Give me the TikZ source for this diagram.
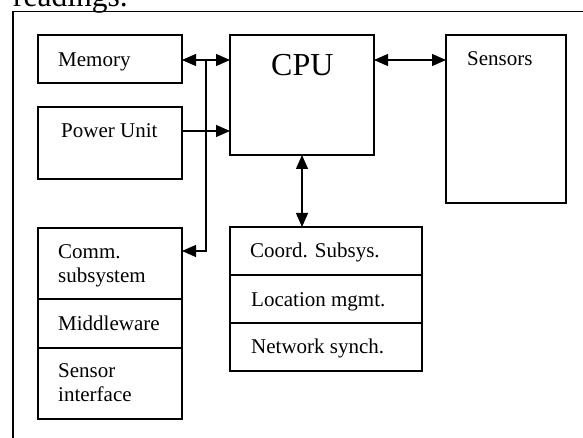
\documentclass[tikz,border=0pt]{standalone}
\usepackage{fontspec}
\setmainfont{Liberation Serif}
\usetikzlibrary{arrows.meta}
\tikzset{
  box/.style={draw, line width=1.2pt, rectangle, inner sep=0pt, outer sep=0pt, anchor=north west},
  txt/.style={inner sep=0pt, anchor=base west, align=left, font=\fontsize{21}{23.5}\selectfont},
  bigtxt/.style={inner sep=0pt, anchor=base west, font=\fontsize{32}{36}\selectfont},
  conn/.style={line width=1.2pt},
  arr/.style={conn, -{Triangle[length=14pt,width=12pt]}},
  biarr/.style={conn, {Triangle[length=14pt,width=12pt]}-{Triangle[length=14pt,width=12pt]}}
}
\begin{document}
\begin{tikzpicture}[x=1pt,y=-1pt]
\useasboundingbox (0,0) rectangle (583,438);
\clip (0,0) rectangle (583,438);
% partially visible text above the figure
\node[bigtxt, font=\fontsize{31.5}{36}\selectfont] (readings) at (13,6.5) {readings.};
% outer frame
\draw[line width=1.2pt] (13,11.5) rectangle (620,470);
% boxes
\node[box, minimum width=144pt, minimum height=48pt] (mem) at (38,35) {};
\node[box, minimum width=144pt, minimum height=72pt] (pow) at (38,107) {};
\node[box, minimum width=144pt, minimum height=120pt] (cpu) at (230,35) {};
\node[box, minimum width=120pt, minimum height=168pt] (sens) at (446,35) {};
\node[box, minimum width=144pt, minimum height=71pt] (comm) at (38,228) {};
\node[box, minimum width=144pt, minimum height=49pt] (mid) at (38,299) {};
\node[box, minimum width=144pt, minimum height=71pt] (sif) at (38,348) {};
\node[box, minimum width=192pt, minimum height=48pt] (coord) at (230,227) {};
\node[box, minimum width=192pt, minimum height=48pt] (loc) at (230,275) {};
\node[box, minimum width=192pt, minimum height=48pt] (net) at (230,323) {};
% texts (multi-line nodes: base = last line)
\node[txt] (tmem) at (58,67) {Memory};
\node[txt] (tpow) at (61,138) {Power Unit};
\node[bigtxt] (tcpu) at (271,76) {CPU};
\node[txt] (tsens) at (467,66) {Sensors};
\node[txt] (tcomm) at (58,282) {Comm.\\subsystem};
\node[txt] (tmid) at (58,330) {Middleware};
\node[txt] (tsif) at (58,401) {Sensor\\interface};
\node[txt] (tcoord) at (250,258) {Coord. Subsys.};
\node[txt] (tloc) at (251,306) {Location mgmt.};
\node[txt] (tnet) at (251,353) {Network synch.};
% connectors
\coordinate (m1) at (182,60);
\coordinate (j1) at (206,60);
\coordinate (j2) at (206,251);
\coordinate (p1) at (182,131);
\coordinate (s1) at (374,60);
\draw[biarr] (m1) -- (m1 -| cpu.west);
\draw[arr] (j1) -- (j2) -- (j2 -| comm.east);
\draw[arr] (p1) -- (p1 -| cpu.west);
\draw[biarr] (s1) -- (s1 -| sens.west);
\draw[biarr] (cpu.south) -- (cpu.south |- coord.north);
\end{tikzpicture}
\end{document}
